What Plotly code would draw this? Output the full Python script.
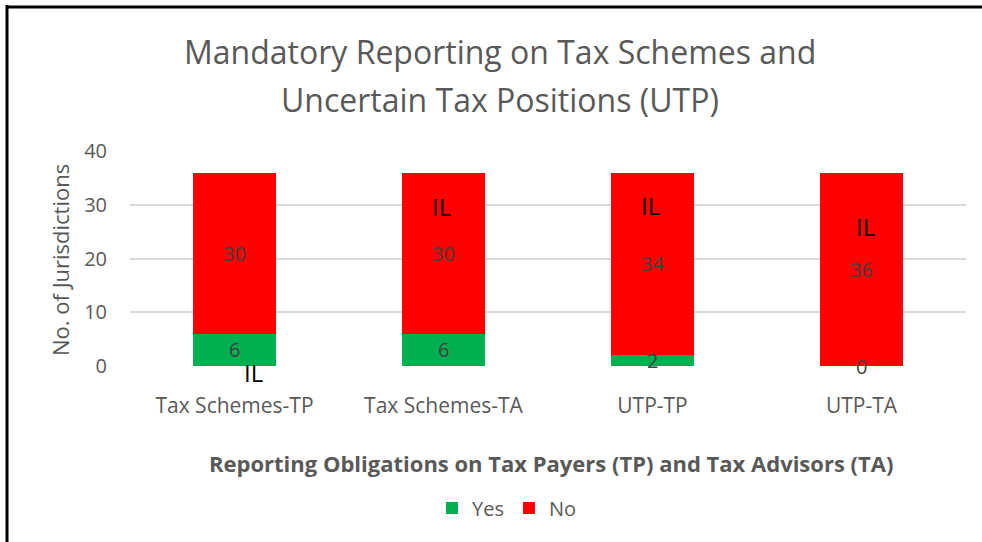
import plotly.graph_objects as go

categories = ["Tax Schemes-TP", "Tax Schemes-TA", "UTP-TP", "UTP-TA"]
yes_values = [6, 6, 2, 0]
no_values = [30, 30, 34, 36]
il_label = "IL"

FONT = "Open Sans"
GRAY = "#595959"
GREEN = "#00B050"
RED = "#FF0000"

W, H = 982, 542
L, R, T, B = 130, 16, 151, 176
PW, PH = W - L - R, H - T - B


def px(xp):
    return (xp - L) / PW


def py(yp):
    return (H - B - yp) / PH


fig = go.Figure()
fig.add_trace(go.Bar(name="Yes", x=categories, y=yes_values, marker=dict(color=GREEN, line=dict(width=0))))
fig.add_trace(go.Bar(name="No", x=categories, y=no_values, marker=dict(color=RED, line=dict(width=0))))

C = dict(xanchor="center", yanchor="middle", showarrow=False)
annotations = []
# data labels centred in each segment
for i, c in enumerate(categories):
    annotations.append(dict(x=c, y=yes_values[i] / 2, xref="x", yref="y", text=str(yes_values[i]),
                            font=dict(family=FONT, size=20, color="#404040"), **C))
    annotations.append(dict(x=c, y=yes_values[i] + no_values[i] / 2, xref="x", yref="y", text=str(no_values[i]),
                            font=dict(family=FONT, size=20, color="#404040"), **C))

# "IL" markers (first one sits just below the axis, so placed in paper units vertically)
il_pos = [(0.09, py(372), "paper"), (-0.01, 29.6, "y"), (-0.01, 29.8, "y"), (0.02, 26.0, "y")]
for i, (dx, yv, yr) in enumerate(il_pos):
    annotations.append(dict(x=i + dx, y=yv, xref="x", yref=yr, text=il_label,
                            font=dict(family=FONT, size=24, color="black"), **C))

# title (two lines)
annotations.append(dict(x=px(500), y=py(51), xref="paper", yref="paper",
                        text="Mandatory Reporting on Tax Schemes and",
                        font=dict(family=FONT, size=32, color=GRAY), **C))
annotations.append(dict(x=px(500), y=py(99), xref="paper", yref="paper",
                        text="Uncertain Tax Positions (UTP)",
                        font=dict(family=FONT, size=32, color=GRAY), **C))

# axis titles
annotations.append(dict(x=px(551), y=py(463), xref="paper", yref="paper",
                        text="<b>Reporting Obligations on Tax Payers (TP) and Tax Advisors (TA)</b>",
                        font=dict(family=FONT, size=22, color=GRAY), **C))
annotations.append(dict(x=px(60), y=py(260), xref="paper", yref="paper", text="No. of Jurisdictions",
                        textangle=-90, font=dict(family=FONT, size=22, color=GRAY), **C))

shapes = [
    dict(type="line", xref="paper", yref="paper", x0=px(7), x1=px(7), y0=py(5), y1=py(560),
         line=dict(color="black", width=3)),
    dict(type="line", xref="paper", yref="paper", x0=px(6), x1=px(1000), y0=py(7), y1=py(7),
         line=dict(color="black", width=3)),
]

fig.update_layout(
    barmode="stack",
    bargap=0.6,
    width=W, height=H,
    margin=dict(l=L, r=R, t=T, b=B),
    plot_bgcolor="white", paper_bgcolor="white",
    annotations=annotations,
    shapes=shapes,
    showlegend=True,
    legend=dict(orientation="h", x=px(507), xanchor="center", y=py(508), yanchor="middle",
                font=dict(family=FONT, size=20, color=GRAY), traceorder="normal", itemwidth=30),
    xaxis=dict(tickfont=dict(family=FONT, size=21, color=GRAY), showgrid=False, zeroline=False,
               showline=False, ticks="outside", ticklen=4, tickcolor="rgba(0,0,0,0)", ticklabelstandoff=17),
    yaxis=dict(range=[0, 40], tickvals=[0, 10, 20, 30, 40], tickfont=dict(family=FONT, size=20, color=GRAY),
               gridcolor="#D9D9D9", gridwidth=1.5, zeroline=False, showline=False, ticks="",
               ticklabelstandoff=22),
    font=dict(family=FONT),
)

fig.write_html("out.html", config={"displayModeBar": False},
               post_script="document.body.style.margin='0px';document.body.style.padding='0px';")
